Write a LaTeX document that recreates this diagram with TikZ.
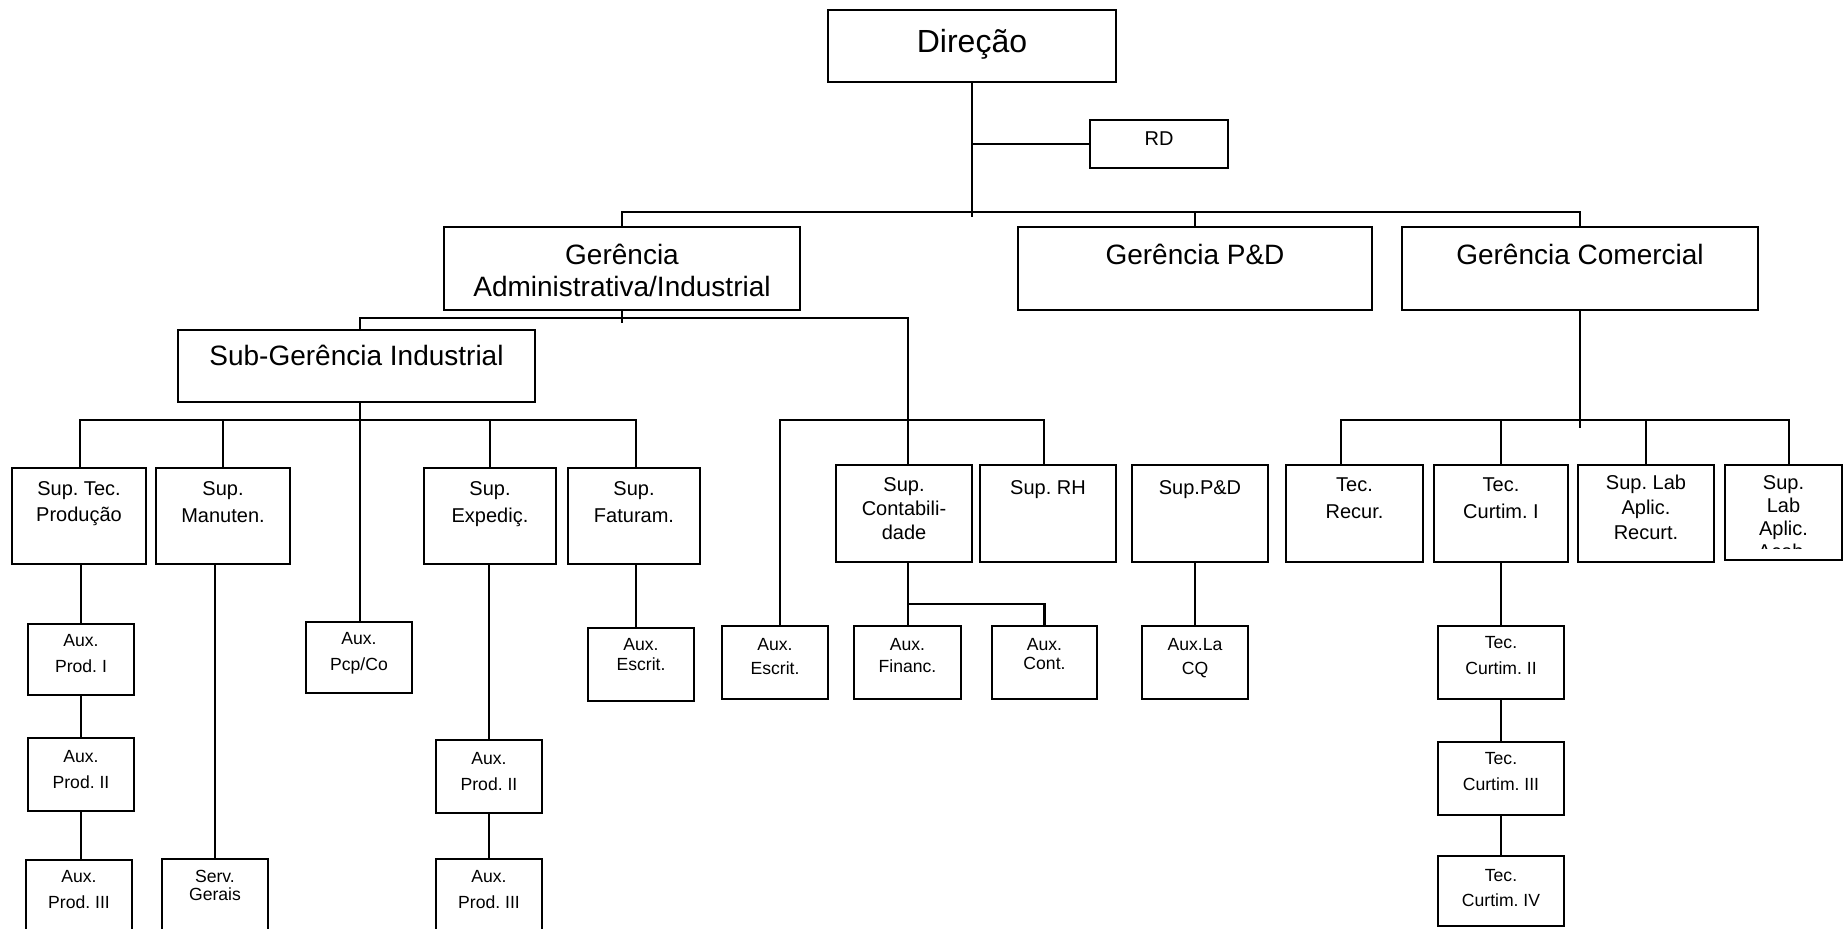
\documentclass[tikz,border=0pt]{standalone}
\usepackage{fontspec}
\setmainfont{Liberation Sans}
\frenchspacing
\tikzset{
  orgbox/.style={draw, rectangle, inner sep=0pt, line width=1.1pt},
  lbl/.style={inner sep=0pt, anchor=base},
  conn/.style={line width=1.1pt}
}
% name, x1, y1, x2, y2, font size, baselineskip, first baseline, text
\newcommand{\orgnode}[9]{%
  \node[orgbox, minimum width={(#4-#2)*0.5pt}, minimum height={(#5-#3)*0.5pt}] (#1) at ({(#2+#4)/2},{(#3+#5)/2}) {};
  \node[lbl] (#1-t) at ({(#2+#4)/2},#8) {\parbox[t]{\dimexpr(#4pt-#2pt)/2\relax}{\centering\fontsize{#6}{#7}\selectfont #9}};
}
\begin{document}
\begin{tikzpicture}[x=0.5pt,y=-0.5pt]
\useasboundingbox (0,0) rectangle (1843,929);
\clip (0,0) rectangle (1843,929);

% top level
\orgnode{dir}{828}{10}{1116}{82}{16}{19}{52.7}{Direção}
\orgnode{rd}{1090}{120}{1228}{168}{10}{12}{146}{RD}
\orgnode{adm}{444}{227}{800}{310}{14}{16}{265}{Gerência\\Administrativa/Industrial}
\orgnode{pd}{1018}{227}{1372}{310}{14}{16}{265}{Gerência P\&D}
\orgnode{com}{1402}{227}{1758}{310}{14}{16}{265}{Gerência Comercial}
\orgnode{sub}{178}{330}{535}{402}{14}{16}{366}{Sub-Gerência Industrial}

% supervisor row
\orgnode{stp}{12}{468}{146}{564}{10}{13}{496}{Sup. Tec.\\Produção}
\orgnode{sman}{156}{468}{290}{564}{10}{13.5}{496}{Sup.\\Manuten.}
\orgnode{sexp}{424}{468}{556}{564}{10}{13.5}{496}{Sup.\\Expediç.}
\orgnode{sfat}{568}{468}{700}{564}{10}{13.5}{496}{Sup.\\Faturam.}
\orgnode{scont}{836}{465}{972}{562}{10}{12}{492}{Sup.\\Contabili-\\dade}
\orgnode{srh}{980}{465}{1116}{562}{10}{12}{495}{Sup. RH}
\orgnode{spd}{1132}{465}{1268}{562}{10}{12}{495}{Sup.P\&D}
\orgnode{trec}{1286}{465}{1423}{562}{10}{13.3}{492}{Tec.\\Recur.}
\orgnode{tc1}{1434}{465}{1568}{562}{10}{13.3}{492}{Tec.\\Curtim. I}
\orgnode{slr}{1578}{465}{1714}{562}{10}{12.5}{490}{Sup. Lab\\Aplic.\\Recurt.}
\node[orgbox, minimum width={(1842-1725)*0.5pt}, minimum height={(560-465)*0.5pt}] (sla) at (1783.5,512.5) {};
\begin{scope}
  \clip (1725,465) rectangle (1842,549);
  \node[lbl] (sla-t) at (1783.5,490) {\parbox[t]{58.5pt}{\centering\fontsize{10}{11.5}\selectfont Sup.\\Lab\\Aplic.\\Acab.}};
\end{scope}

% auxiliary rows
\orgnode{ap1}{28}{624}{134}{695}{8.8}{13}{647}{Aux.\\Prod. I}
\orgnode{ap2}{28}{738}{134}{811}{8.8}{13}{763}{Aux.\\Prod. II}
\orgnode{ap3}{26}{860}{132}{945}{8.8}{12.8}{883}{Aux.\\Prod. III}
\orgnode{sg}{162}{859}{268}{945}{8.8}{8.6}{883}{Serv.\\Gerais}
\orgnode{pcp}{306}{622}{412}{693}{8.8}{12.8}{645}{Aux.\\Pcp/Co}
\orgnode{ep2}{436}{740}{542}{813}{8.8}{12.8}{765}{Aux.\\Prod. II}
\orgnode{ep3}{436}{859}{542}{945}{8.8}{12.8}{883}{Aux.\\Prod. III}
\orgnode{aesc1}{588}{628}{694}{701}{8.8}{10}{651}{Aux.\\Escrit.}
\orgnode{aesc2}{722}{626}{828}{699}{8.8}{12}{651}{Aux.\\Escrit.}
\orgnode{afin}{854}{626}{961}{699}{8.8}{11}{651}{Aux.\\Financ.}
\orgnode{acont}{992}{626}{1097}{699}{8.8}{9.3}{651}{Aux.\\Cont.}
\orgnode{alcq}{1142}{626}{1248}{699}{8.8}{12}{651}{Aux.La\\CQ}
\orgnode{tc2}{1438}{626}{1564}{699}{8.8}{13}{649}{Tec.\\Curtim. II}
\orgnode{tc3}{1438}{742}{1564}{815}{8.8}{12.8}{765}{Tec.\\Curtim. III}
\orgnode{tc4}{1438}{856}{1564}{926}{8.8}{12.5}{882}{Tec.\\Curtim. IV}

% bus coordinates
\coordinate (tTrunk) at (972,217);
\coordinate (tbL) at (622,212);
\coordinate (tbR) at (1580,212);
\coordinate (abL) at (360,318);
\coordinate (abR) at (908,318);
\coordinate (admTick) at (622,323);
\coordinate (rbL) at (780,420);
\coordinate (rbR) at (1044,420);
\coordinate (ibL) at (80,420);
\coordinate (ibR) at (636,420);
\coordinate (cb) at (908,604);
\coordinate (cEnd) at (1580,428);
\coordinate (cbL) at (1341,420);
\coordinate (cbR) at (1789,420);

% top connectors
\draw[conn] (dir.south) -- (tTrunk);
\draw[conn] (dir.south |- rd.west) -- (rd.west);
\draw[conn] (adm.north) -- (adm.north |- tbL) -- (tbR) -- (com.north);
\draw[conn] (pd.north) -- (pd.north |- tbL);

% administrative branch
\draw[conn] (adm.south) -- (admTick);
\draw[conn] (sub.north -| abL) -- (abL) -- (abR) -- (scont.north -| abR);
\draw[conn] (aesc2.north -| rbL) -- (rbL) -- (rbR) -- (srh.north -| rbR);

% industrial branch
\draw[conn] (sub.south -| abL) -- (pcp.north -| abL);
\draw[conn] (stp.north -| ibL) -- (ibL) -- (ibR) -- (sfat.north -| ibR);
\draw[conn] (sman.north) -- (sman.north |- ibL);
\draw[conn] (sexp.north) -- (sexp.north |- ibL);

% lower chains
\draw[conn] (ap1.north |- stp.south) -- (ap1.north);
\draw[conn] (ap1.south) -- (ap2.north);
\draw[conn] (ap2.south) -- (ap2.south |- ap3.north);
\draw[conn] (sg.north |- sman.south) -- (sg.north);
\draw[conn] (ep2.north |- sexp.south) -- (ep2.north);
\draw[conn] (ep2.south) -- (ep3.north);
\draw[conn] (sfat.south -| ibR) -- (aesc1.north -| ibR);
\draw[conn] (scont.south -| abR) -- (afin.north -| abR);
\draw[conn] (cb) -| (acont.north);
\draw[conn] (alcq.north |- spd.south) -- (alcq.north);

% commercial branch
\draw[conn] (com.south) -- (cEnd);
\draw[conn] (trec.north -| cbL) -- (cbL) -- (cbR) -- (sla.north -| cbR);
\draw[conn] (tc1.north) -- (tc1.north |- cbL);
\draw[conn] (slr.north) -- (slr.north |- cbL);
\draw[conn] (tc1.south) -- (tc2.north);
\draw[conn] (tc2.south) -- (tc3.north);
\draw[conn] (tc3.south) -- (tc4.north);
\end{tikzpicture}
\end{document}
